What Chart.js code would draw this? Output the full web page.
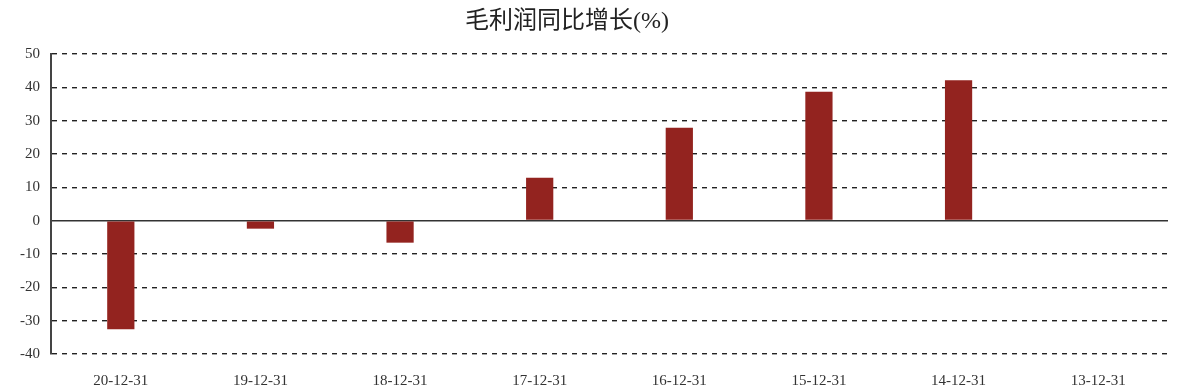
<!DOCTYPE html>
<html>
<head>
<meta charset="utf-8">
<script src="https://cdn.jsdelivr.net/npm/chart.js@4/dist/chart.umd.min.js"></script>
<style>
  html, body { margin: 0; padding: 0; background: #fff; }
  #wrap { width: 1200px; height: 392px; }
</style>
</head>
<body>
<div id="wrap"><canvas id="myChart" width="1200" height="392"></canvas></div>
<script>
// chart data
const categories = ['20-12-31', '19-12-31', '18-12-31', '17-12-31', '16-12-31', '15-12-31', '14-12-31', '13-12-31'];
const growthValues = [-32.6, -2.4, -6.6, 12.9, 27.9, 38.7, 42.1, null];
const yTicks = [-40, -30, -20, -10, 0, 10, 20, 30, 40, 50];
const chartTitle = '毛利润同比增长(%)';

const barColor = '#93231F';
const textColor = '#333333';

// title is drawn a bit left of centre like the original
const titlePlugin = {
    id: 'leftTitle',
    afterDraw: function (chart) {
        const c = chart.ctx;
        c.save();
        c.fillStyle = '#222';
        c.font = '400 24px "Liberation Serif", "Noto Sans CJK SC", serif';
        c.textAlign = 'center';
        c.textBaseline = 'middle';
        c.fillText(chartTitle, 567, 22);
        c.restore();
    }
};

const ctx = document.getElementById('myChart').getContext('2d');
const myChart = new Chart(ctx, {
    type: 'bar',
    data: {
        labels: categories,
        datasets: [{
            label: chartTitle,
            data: growthValues,
            backgroundColor: barColor,
            borderWidth: 0,
            barPercentage: 1,
            categoryPercentage: 0.195
        }]
    },
    plugins: [titlePlugin],
    options: {
        responsive: false,
        animation: false,
        layout: { padding: { left: 0, right: 32, top: 54, bottom: 0 } },
        plugins: {
            legend: { display: false },
            tooltip: { enabled: false },
            title: { display: false }
        },
        scales: {
            x: {
                grid: { display: false },
                border: { display: false },
                ticks: {
                    color: textColor,
                    font: { family: '"Liberation Serif", serif', size: 15 },
                    padding: 10,
                    maxRotation: 0
                },
                afterFit: function (scale) { scale.height = 38; }
            },
            y: {
                min: -40,
                max: 50,
                afterBuildTicks: function (scale) {
                    scale.ticks = yTicks.map(v => ({ value: v }));
                },
                grid: {
                    color: function (c) { return c.tick && c.tick.value === 0 ? '#333' : '#222'; },
                    lineWidth: function (c) { return c.tick && c.tick.value === 0 ? 1.6 : 1.4; },
                    drawTicks: false
                },
                border: {
                    display: true,
                    color: '#444',
                    width: 2,
                    dash: function (c) { return c.tick && c.tick.value === 0 ? [] : [5, 5]; },
                    dashOffset: 0
                },
                ticks: {
                    color: textColor,
                    font: { family: '"Liberation Serif", serif', size: 15 },
                    padding: 11
                },
                afterFit: function (scale) { scale.width = 51; }
            }
        }
    }
});
</script>
</body>
</html>
